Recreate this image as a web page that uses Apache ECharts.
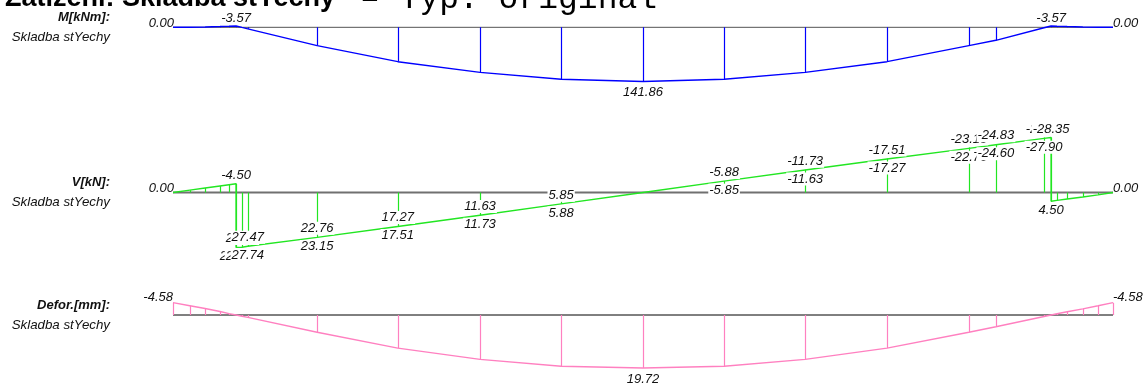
<!DOCTYPE html>
<html>
<head>
<meta charset="utf-8">
<script src="https://cdn.jsdelivr.net/npm/echarts@6/dist/echarts.min.js"></script>
<style>
  html, body { margin: 0; padding: 0; background: #fff; }
  #chart { width: 1144px; height: 385px; }
</style>
</head>
<body>
<div id="chart"></div>
<script>
// positions of the result stations along the beam [m]
const stations = [0, 0.43, 0.82, 1.20, 1.43, 1.61, 1.76, 1.91, 3.68, 5.74, 7.84, 9.91, 12.00,
  14.07, 16.14, 18.23, 20.32, 21.01, 22.24, 22.42, 22.57, 22.83, 23.23, 23.62, 24.00];

// M [kNm]
const moment = [0, -0.25, -0.93, -2.0, -2.82, -3.57, 0.3, 4.0, 48, 90, 118, 136, 141.86,
  136, 118, 90, 48, 34, 1.2, -3.57, -2.92, -1.96, -0.85, -0.21, 0];

// V [kN], value left and right of each station
const shearLeft = [0, -1.20, -2.29, -3.35, -4.0, -4.50, 28.20, 27.74, 23.15, 17.51, 11.73, 5.88, 0,
  -5.85, -11.63, -17.27, -22.76, -24.60, -27.90, -28.35, 4.07, 3.33, 2.31, 1.22, 0];
const shearRight = [0, -1.20, -2.29, -3.35, -4.0, 28.30, 28.05, 27.47, 22.76, 17.27, 11.63, 5.85, 0,
  -5.88, -11.73, -17.51, -23.15, -24.83, -28.30, 4.50, 4.07, 3.33, 2.31, 1.22, 0];

// deformation [mm]
const deform = [-4.58, -3.45, -2.4, -1.3, -0.51, 0, 0.45, 0.9, 6.4, 12.3, 16.5, 19.05, 19.72,
  19.05, 16.5, 12.3, 6.4, 4.35, 0.55, 0, -0.45, -1.2, -2.29, -3.43, -4.58];

// stations that carry value labels
const momentLabelAt = [1.61, 12.00, 22.42];
const shearLabelAt = [1.61, 1.76, 1.91, 3.68, 5.74, 7.84, 9.91, 14.07, 16.14, 18.23, 20.32, 21.01, 22.24, 22.42];
const deformLabelAt = [12.00];

const beamLength = 24.0;

const titleMain = "Zatížení: Skladba stYechy";
const titleType = "– Typ: original";
const panels = [
  { caption: "M[kNm]:", sub: "Skladba stYechy" },
  { caption: "V[kN]:", sub: "Skladba stYechy" },
  { caption: "Defor.[mm]:", sub: "Skladba stYechy" },
];

const labelFont = 'italic 13px "Liberation Sans", Arial, sans-serif';
const colors = { M: "#0000ff", V: "#22e622", D: "#ff80c0" };

const chart = echarts.init(document.getElementById("chart"));

function idx(x) {
  return stations.indexOf(x);
}

function baseline(grid, color, width) {
  return {
    type: "line", xAxisIndex: grid, yAxisIndex: grid, z: 1, silent: true,
    symbol: "none", data: [[0, 0], [beamLength, 0]],
    lineStyle: { color: color, width: width },
  };
}

function curve(grid, color, data) {
  return {
    type: "line", xAxisIndex: grid, yAxisIndex: grid, z: 3, silent: true,
    symbol: "none", data: data,
    lineStyle: { color: color, width: 1.4 },
  };
}

// vertical ordinates [x, lo, hi]
function ordinates(grid, color, data) {
  return {
    type: "lines", coordinateSystem: "cartesian2d", xAxisIndex: grid, yAxisIndex: grid,
    z: 2, silent: true,
    data: data.map((d) => ({ coords: [[d[0], d[1]], [d[0], d[2]]] })),
    lineStyle: { color: color, width: 1.2, opacity: 1, curveness: 0 },
  };
}

// labels: {x, v, dy, align}
function labels(grid, items) {
  return {
    type: "custom", xAxisIndex: grid, yAxisIndex: grid, z: 10, silent: true,
    data: items.map((d) => [d.x, d.v]),
    renderItem: (params, api) => {
      const d = items[params.dataIndex];
      const p = api.coord([d.x, d.v]);
      return {
        type: "text",
        x: p[0] + (d.dx || 0),
        y: p[1] + d.dy,
        style: {
          text: d.v.toFixed(2),
          font: labelFont,
          fill: "#111",
          align: d.align || "center",
          verticalAlign: "middle",
          backgroundColor: d.bg === false ? null : "#fff",
          padding: [0, 1],
        },
      };
    },
  };
}

// moment
const momentLine = stations.map((x, i) => [x, moment[i]]);
const momentOrd = stations.map((x, i) => [x, 0, moment[i]]);
const momentLabels = [
  { x: 0, v: 0, dy: -4, dx: 2, align: "right", bg: false },
  { x: beamLength, v: 0, dy: -4, dx: -1, align: "left", bg: false },
].concat(momentLabelAt.map((x) => {
  const v = moment[idx(x)];
  return { x: x, v: v, dy: v < 0 ? -8 : 11 };
}));

// shear
const shearLine = [];
stations.forEach((x, i) => {
  shearLine.push([x, shearLeft[i]]);
  if (shearRight[i] !== shearLeft[i]) shearLine.push([x, shearRight[i]]);
});
const shearOrd = stations.map((x, i) => [x,
  Math.min(0, shearLeft[i], shearRight[i]), Math.max(0, shearLeft[i], shearRight[i])]);
const shearLabels = [
  { x: 0, v: 0, dy: -4, dx: 2, align: "right", bg: false },
  { x: beamLength, v: 0, dy: -4, dx: -1, align: "left", bg: false },
];
shearLabelAt.forEach((x) => {
  const i = idx(x);
  const lo = Math.min(shearLeft[i], shearRight[i]);
  const hi = Math.max(shearLeft[i], shearRight[i]);
  shearLabels.push({ x: x, v: lo, dy: -8.5 });
  shearLabels.push({ x: x, v: hi, dy: 9 });
});

// deformation
const deformLine = stations.map((x, i) => [x, deform[i]]);
const deformOrd = stations.map((x, i) => [x, 0, deform[i]]);
const deformLabels = [
  { x: 0, v: deform[0], dy: -5.5, dx: 1, align: "right", bg: false },
  { x: beamLength, v: deform[stations.length - 1], dy: -5.5, dx: -1, align: "left", bg: false },
].concat(deformLabelAt.map((x) => ({ x: x, v: deform[idx(x)], dy: 11 })));

const captionY = [27.3, 192.5, 315];
const graphics = [
  {
    type: "text", x: 5, y: -1,
    style: { text: titleMain, font: 'bold 27px "Liberation Sans", Arial, sans-serif', fill: "#000", verticalAlign: "middle" },
  },
  {
    type: "text", x: 360, y: -1,
    style: { text: titleType, font: '33px "Liberation Mono", "Courier New", monospace', fill: "#000", verticalAlign: "middle" },
  },
];
panels.forEach((p, i) => {
  graphics.push({
    type: "text", x: 110, y: captionY[i] - 10,
    style: { text: p.caption, font: 'bold italic 13px "Liberation Sans", Arial, sans-serif', fill: "#111", align: "right", verticalAlign: "middle" },
  });
  graphics.push({
    type: "text", x: 110, y: captionY[i] + 10,
    style: { text: p.sub, font: 'italic 13.3px "Liberation Sans", Arial, sans-serif', fill: "#111", align: "right", verticalAlign: "middle" },
  });
});

chart.setOption({
  animation: false,
  backgroundColor: "#fff",
  grid: [
    { left: 173, right: 31, top: 23.5, height: 61.1 },
    { left: 173, right: 31, top: 134.3, height: 116.4 },
    { left: 173, right: 31, top: 301.55, height: 67.25 },
  ],
  xAxis: [0, 1, 2].map((g) => ({ type: "value", gridIndex: g, min: 0, max: beamLength, show: false })),
  yAxis: [
    { type: "value", gridIndex: 0, min: -10, max: 150, inverse: true, show: false },
    { type: "value", gridIndex: 1, min: -30, max: 30, inverse: true, show: false },
    { type: "value", gridIndex: 2, min: -5, max: 20, inverse: true, show: false },
  ],
  graphic: graphics,
  series: [
    baseline(0, "#555", 1),
    ordinates(0, colors.M, momentOrd),
    curve(0, colors.M, momentLine),
    labels(0, momentLabels),

    baseline(1, "#707070", 2),
    ordinates(1, colors.V, shearOrd),
    curve(1, colors.V, shearLine),
    labels(1, shearLabels),

    baseline(2, "#000", 1),
    ordinates(2, colors.D, deformOrd),
    curve(2, colors.D, deformLine),
    labels(2, deformLabels),
  ],
});
</script>
</body>
</html>
